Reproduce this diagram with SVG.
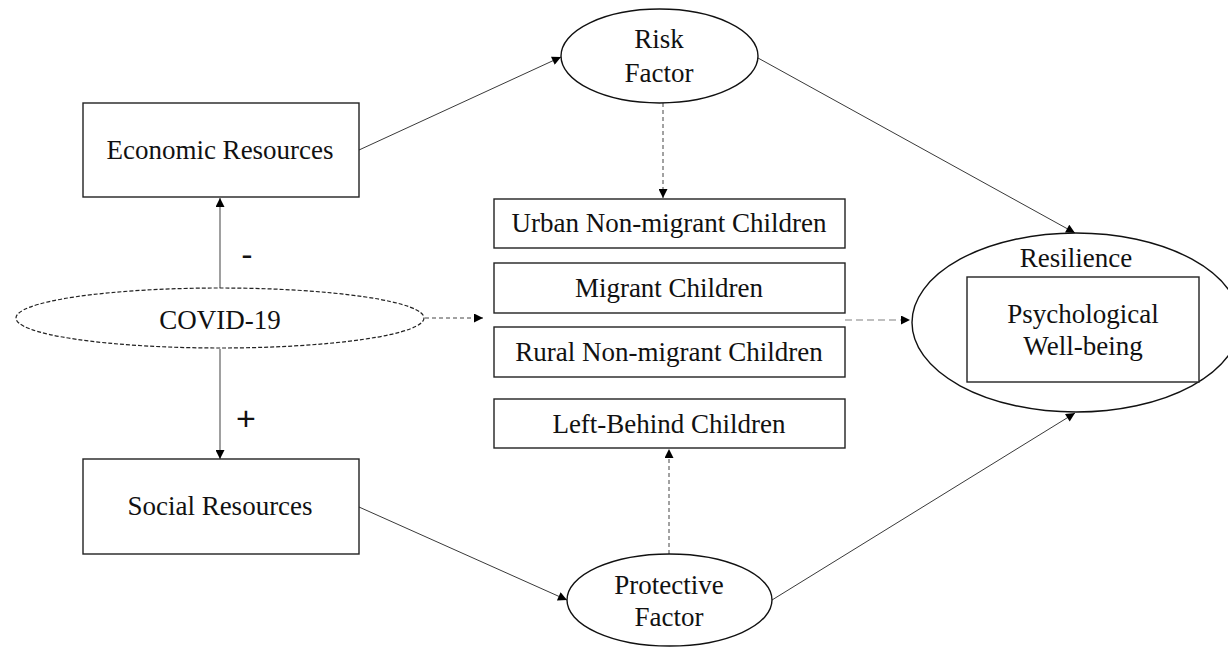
<svg xmlns="http://www.w3.org/2000/svg" width="1228" height="647" viewBox="0 0 1228 647">
<style>
text{font-family:"Liberation Serif","Times New Roman",serif;font-size:27px;fill:#111;text-anchor:middle}
text.sign{font-family:"Liberation Sans",Arial,sans-serif;font-size:34px;fill:#111}
.box{fill:#fff;stroke:#222;stroke-width:1.4}
.ell{fill:#fff;stroke:#111;stroke-width:1.4}
.ln{fill:none;stroke:#222;stroke-width:0.9}
.gr{fill:none;stroke:#888;stroke-width:1.6}
.dsh{fill:none;stroke:#444;stroke-width:1;stroke-dasharray:4,3}
.dshl{fill:none;stroke:#aaa;stroke-width:1.4;stroke-dasharray:7,4}
</style>
<defs>
<marker id="ah" viewBox="0 0 10 10" refX="10" refY="5" markerWidth="10" markerHeight="9" markerUnits="userSpaceOnUse" orient="auto"><path d="M0,0 L10,5 L0,10 Z" fill="#000"/></marker>
</defs>
<rect width="1228" height="647" fill="#fff"/>
<g id="connectors">
<line class="ln" x1="359" y1="150" x2="561" y2="57" marker-end="url(#ah)"/>
<line class="ln" x1="758" y1="58" x2="1075" y2="233" marker-end="url(#ah)"/>
<line class="ln" x1="359" y1="507" x2="567" y2="600" marker-end="url(#ah)"/>
<line class="ln" x1="772" y1="600" x2="1075" y2="413" marker-end="url(#ah)"/>
<line class="gr" x1="220" y1="288" x2="220" y2="198" marker-end="url(#ah)"/>
<line class="gr" x1="220" y1="349" x2="220" y2="459" marker-end="url(#ah)"/>
<line class="dsh" x1="663" y1="103" x2="663" y2="198" marker-end="url(#ah)"/>
<line class="dsh" x1="669" y1="554" x2="669" y2="449" marker-end="url(#ah)"/>
<line class="dsh" x1="425" y1="318" x2="483" y2="318" marker-end="url(#ah)"/>
<line class="dshl" x1="845" y1="320" x2="910" y2="320" marker-end="url(#ah)"/>
<text class="sign" x="247" y="266">-</text>
<text class="sign" x="246" y="430">+</text>
</g>
<g id="economic"><rect class="box" x="83" y="103" width="276" height="94"/><text x="220" y="159">Economic Resources</text></g>
<g id="social"><rect class="box" x="83" y="459" width="276" height="95"/><text x="220" y="515">Social Resources</text></g>
<g id="covid"><ellipse cx="220" cy="318" rx="204" ry="30" fill="#fff" stroke="#222" stroke-width="1.2" stroke-dasharray="4,2"/><text x="220" y="329">COVID-19</text></g>
<g id="risk"><ellipse class="ell" cx="659.5" cy="56" rx="98.5" ry="47"/><text x="659" y="48">Risk</text><text x="659" y="82">Factor</text></g>
<g id="protective"><ellipse class="ell" cx="669.5" cy="600" rx="102.5" ry="46"/><text x="669" y="594">Protective</text><text x="669" y="626">Factor</text></g>
<g id="urban"><rect class="box" x="494" y="199" width="351" height="49"/><text x="669" y="232">Urban Non-migrant Children</text></g>
<g id="migrant"><rect class="box" x="494" y="263" width="351" height="50"/><text x="669" y="297">Migrant Children</text></g>
<g id="rural"><rect class="box" x="494" y="327" width="351" height="50"/><text x="669" y="361">Rural Non-migrant Children</text></g>
<g id="leftbehind"><rect class="box" x="494" y="399" width="351" height="49"/><text x="669" y="433">Left-Behind Children</text></g>
<g id="resilience"><ellipse class="ell" cx="1076" cy="322.5" rx="164" ry="89.5"/><text x="1076" y="267">Resilience</text>
<rect class="box" x="967" y="277" width="232" height="105"/><text x="1083" y="323">Psychological</text><text x="1083" y="355">Well-being</text></g>
</svg>
